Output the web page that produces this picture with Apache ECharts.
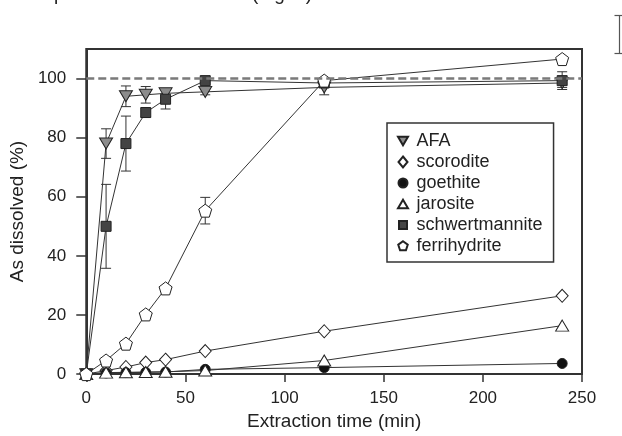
<!DOCTYPE html>
<html>
<head>
<meta charset="utf-8">
<script src="https://cdn.jsdelivr.net/npm/echarts@6/dist/echarts.min.js"></script>
<style>html,body{margin:0;padding:0;background:#fff}#c{width:622px;height:436px}</style>
</head>
<body>
<div id="c"></div>
<script>
const times = [0, 10, 20, 30, 40, 60, 120, 240];
const afa = [0, 78, 94, 94.5, 95, 95.5, 97, 98.5];
const afaErr = [0, 5, 3.5, 2.8, 1.5, 1, 2.5, 1.5];
const scorodite = [0, 1.2, 2.4, 3.9, 4.9, 7.8, 14.5, 26.5];
const goethite = [0, 0.4, 0.5, 0.6, 0.7, 1.6, 2.2, 3.6];
const jarosite = [0, 0.5, 0.6, 0.7, 0.8, 1.2, 4.6, 16.4];
const schwertmannite = [0, 50, 78, 88.5, 93, 99.3, 98.5, 99.3];
const schwertErr = [0, 14.2, 9.3, 1.5, 3.3, 0, 0, 3];
const ferrihydrite = [0, 4.6, 10.3, 20.2, 29, 55.3, 99.3, 106.6];
const ferriErr = [0, 0, 0, 0, 0, 4.5, 0, 0];
const xTicks = [0, 50, 100, 150, 200, 250];
const yTicks = [0, 20, 40, 60, 80, 100];
const names = ['AFA', 'scorodite', 'goethite', 'jarosite', 'schwertmannite', 'ferrihydrite'];

const downTri = 'path://M0,0 L10,0 L5,8.66 Z';
const upTri = 'path://M5,0 L10,8.66 L0,8.66 Z';
const pentagon = 'path://M0,-1 L0.951,-0.309 L0.588,0.809 L-0.588,0.809 L-0.951,-0.309 Z';

// legend icons (drawn inside an 11x11 box, padded so they stay small)
const legIcons = [
  'path://M0,0 M11,11 M0.5,1.2 L10.5,1.2 L5.5,9.8 Z',
  'path://M0,0 M11,11 M5.5,0 L10,5.5 L5.5,11 L1,5.5 Z',
  'path://M0,0 M11,11 M1,5.5 A4.5,4.5 0 1 1 10,5.5 A4.5,4.5 0 1 1 1,5.5 Z',
  'path://M0,0 M11,11 M5.5,1.2 L10.5,9.8 L0.5,9.8 Z',
  'path://M0,0 M11,11 M1.5,1.5 L9.5,1.5 L9.5,9.5 L1.5,9.5 Z',
  'path://M0,0 M11,11 M5.5,0.8 L10.25,4.25 L8.44,9.85 L2.56,9.85 L0.75,4.25 Z'
];

const pair = (vals) => times.map((t, i) => [t, vals[i]]);
const errData = [];
[[afa, afaErr], [schwertmannite, schwertErr], [ferrihydrite, ferriErr]].forEach(([v, e]) => {
  times.forEach((t, i) => { if (e[i] > 0) errData.push([t, v[i], e[i]]); });
});

const FONT = '"Liberation Sans", Arial, Helvetica, sans-serif';
const lineStyle = { color: '#333', width: 1 };

function mk(name, vals, symbol, size, fill) {
  return {
    name, type: 'line', data: pair(vals), symbol, symbolSize: size,
    showSymbol: true, showAllSymbol: true,
    lineStyle, itemStyle: { color: fill, borderColor: '#222', borderWidth: 1 },
    emphasis: { disabled: true }, z: 3
  };
}

const chart = echarts.init(document.getElementById('c'), null, { renderer: 'canvas' });
chart.setOption({
  animation: false,
  backgroundColor: '#fff',
  textStyle: { fontFamily: FONT },
  grid: { left: 74, top: 49, right: 40, bottom: 57, show: true, borderColor: '#333', borderWidth: 2, containLabel: false },
  xAxis: {
    type: 'value', min: 0, max: 250, interval: 50,
    name: 'Extraction time (min)', nameLocation: 'middle', nameGap: 37,
    nameTextStyle: { fontSize: 19, color: '#222', fontFamily: FONT },
    axisLine: { show: true, lineStyle: { color: '#333', width: 2 } },
    axisTick: { show: true, length: 8, lineStyle: { color: '#333', width: 1.5 }, customValues: xTicks },
    axisLabel: { fontSize: 17, color: '#222', margin: 16, fontFamily: FONT, customValues: xTicks },
    splitLine: { show: false }
  },
  yAxis: {
    type: 'value', min: 0, max: 110, interval: 20,
    name: 'As dissolved (%)', nameLocation: 'middle', nameGap: 45,
    nameTextStyle: { fontSize: 19, color: '#222', fontFamily: FONT },
    axisLine: { show: true, lineStyle: { color: '#333', width: 2 } },
    axisTick: { show: true, length: 10, lineStyle: { color: '#333', width: 1.5 }, customValues: yTicks },
    axisLabel: { fontSize: 17, color: '#222', margin: 20, fontFamily: FONT, customValues: yTicks },
    splitLine: { show: false }
  },
  legend: {
    orient: 'vertical', left: 387, top: 123,
    padding: [9, 11, 7, 9.5], itemGap: 3, itemWidth: 11, itemHeight: 11,
    borderColor: '#333', borderWidth: 1.5, backgroundColor: '#fff',
    textStyle: { fontSize: 18, color: '#222', fontFamily: FONT, lineHeight: 18, padding: [0, 0, 0, 3] },
    selectedMode: false,
    data: names.map((n, i) => ({ name: n, icon: legIcons[i] })),
    z: 10
  },
  series: [
    {
      type: 'custom', name: 'err', silent: true, z: 2,
      data: errData,
      encode: { x: 0, y: 1 },
      renderItem: function (params, api) {
        const x = api.value(0), y = api.value(1), e = api.value(2);
        const hi = api.coord([x, y + e]);
        const lo = api.coord([x, y - e]);
        const w = 5;
        const st = { stroke: '#333', lineWidth: 1 };
        return {
          type: 'group', children: [
            { type: 'line', shape: { x1: hi[0], y1: hi[1], x2: lo[0], y2: lo[1] }, style: st },
            { type: 'line', shape: { x1: hi[0] - w, y1: hi[1], x2: hi[0] + w, y2: hi[1] }, style: st },
            { type: 'line', shape: { x1: lo[0] - w, y1: lo[1], x2: lo[0] + w, y2: lo[1] }, style: st }
          ]
        };
      }
    },
    Object.assign(mk(names[0], afa, downTri, [13, 11], '#8c8c8c'), {
      markLine: {
        silent: true, symbol: 'none', label: { show: false },
        lineStyle: { color: '#7a7a7a', type: [8, 4], width: 2.5 },
        data: [{ yAxis: 100 }]
      }
    }),
    mk(names[1], scorodite, 'diamond', [12, 13], '#fff'),
    mk(names[2], goethite, 'circle', 10, '#111'),
    mk(names[3], jarosite, upTri, [13, 11], '#fff'),
    mk(names[4], schwertmannite, 'rect', 10, '#444'),
    mk(names[5], ferrihydrite, pentagon, 13, '#fff')
  ],
  graphic: [
    { type: 'text', left: 252, top: -15, silent: true, style: { text: '(Fig. 3)', fontSize: 19, fontFamily: FONT, fill: '#222' } },
    { type: 'text', left: 54, top: -15, silent: true, style: { text: 'p', fontSize: 19, fontFamily: FONT, fill: '#222' } },
    { type: 'group', left: 612, top: 13, silent: true, children: [
      { type: 'line', shape: { x1: 5, y1: 0, x2: 5, y2: 38 }, style: { stroke: '#555', lineWidth: 1.2 } },
      { type: 'line', shape: { x1: 0, y1: 0, x2: 10, y2: 0 }, style: { stroke: '#555', lineWidth: 1.2 } },
      { type: 'line', shape: { x1: 0, y1: 38, x2: 10, y2: 38 }, style: { stroke: '#555', lineWidth: 1.2 } }
    ] }
  ]
});
</script>
</body>
</html>
